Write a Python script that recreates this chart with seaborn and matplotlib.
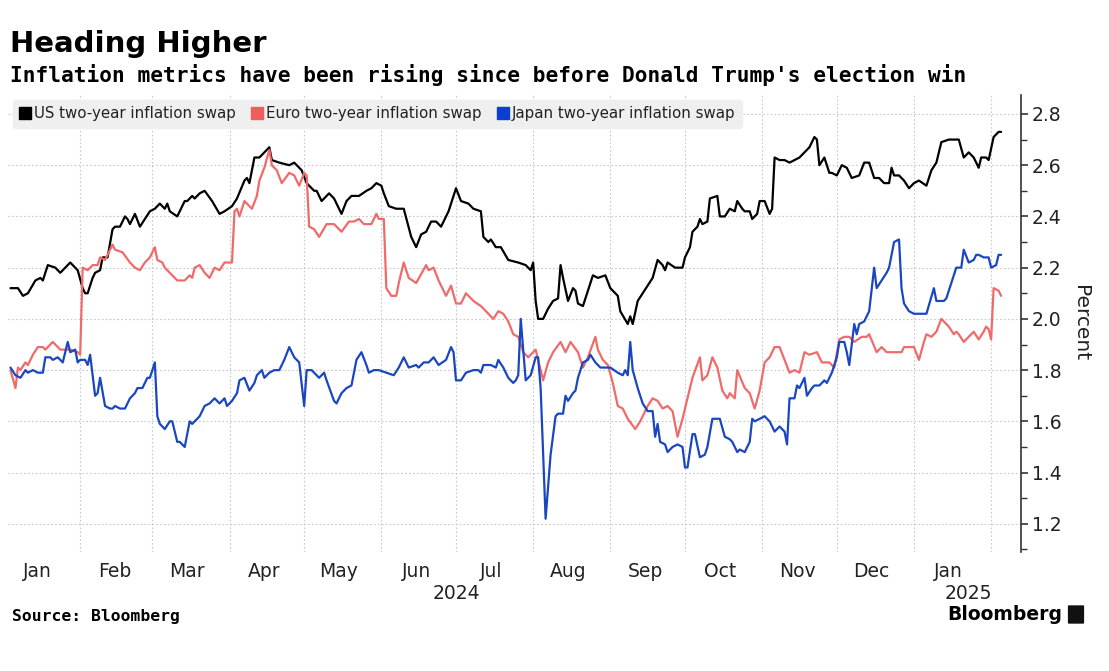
import numpy as np
import pandas as pd
import matplotlib
matplotlib.use("Agg")
import matplotlib.pyplot as plt
import matplotlib.dates as mdates
from matplotlib.ticker import MultipleLocator, FixedLocator
from matplotlib.lines import Line2D
from matplotlib.patches import FancyBboxPatch
import seaborn as sns

# ---------------- data (days since 2024-01-01, percent) ----------------
us_day = [3, 6, 8, 10, 13, 15, 16, 18, 21, 23, 25, 27, 29, 30, 32, 33, 34, 36, 37, 39,
          40, 41, 42, 44, 45, 47, 49, 50, 51, 53, 55, 57, 59, 61, 63, 65, 66, 67, 70, 73,
          74, 76, 77, 79, 81, 84, 87, 89, 92, 94, 97, 98, 99, 101, 103, 105, 107, 108, 111, 115,
          117, 120, 122, 125, 126, 128, 131, 133, 136, 138, 140, 143, 146, 148, 150, 152, 153, 155, 158, 161,
          164, 166, 168, 170, 172, 174, 176, 179, 182, 184, 187, 189, 192, 193, 195, 196, 198, 200, 203, 207,
          210, 212, 213, 214, 215, 217, 219, 221, 223, 224, 225, 227, 229, 230, 231, 233, 235, 237, 239, 242,
          244, 247, 248, 251, 252, 253, 255, 257, 259, 261, 263, 265, 266, 267, 270, 273, 274, 276, 277, 279,
          280, 281, 283, 284, 287, 288, 290, 292, 294, 295, 297, 298, 300, 301, 303, 304, 306, 308, 309, 310,
          312, 314, 316, 318, 320, 322, 324, 326, 327, 328, 330, 332, 333, 335, 337, 339, 341, 344, 346, 348,
          350, 352, 354, 356, 357, 358, 360, 362, 364, 366, 368, 371, 373, 375, 377, 380, 382, 383, 384, 386,
          388, 390, 392, 393, 395, 396, 398, 400, 401]
us_val = [2.12, 2.12, 2.09, 2.10, 2.15, 2.16, 2.15, 2.21, 2.20, 2.18, 2.20, 2.22, 2.20, 2.19, 2.12, 2.10, 2.10, 2.16, 2.18, 2.19,
          2.24, 2.24, 2.24, 2.35, 2.36, 2.36, 2.40, 2.39, 2.37, 2.41, 2.36, 2.39, 2.42, 2.43, 2.45, 2.43, 2.45, 2.42, 2.40, 2.46,
          2.46, 2.48, 2.47, 2.49, 2.50, 2.46, 2.41, 2.42, 2.44, 2.47, 2.54, 2.55, 2.53, 2.63, 2.63, 2.65, 2.67, 2.62, 2.61, 2.60,
          2.61, 2.58, 2.53, 2.50, 2.50, 2.46, 2.49, 2.47, 2.41, 2.46, 2.48, 2.48, 2.50, 2.51, 2.53, 2.52, 2.49, 2.44, 2.43, 2.43,
          2.32, 2.28, 2.33, 2.34, 2.38, 2.38, 2.36, 2.42, 2.51, 2.46, 2.45, 2.43, 2.42, 2.32, 2.30, 2.31, 2.28, 2.28, 2.23, 2.22,
          2.21, 2.19, 2.22, 2.07, 2.00, 2.00, 2.04, 2.07, 2.08, 2.21, 2.16, 2.07, 2.12, 2.11, 2.06, 2.05, 2.11, 2.17, 2.16, 2.17,
          2.12, 2.09, 2.03, 1.98, 2.01, 1.98, 2.07, 2.10, 2.13, 2.16, 2.23, 2.21, 2.19, 2.22, 2.20, 2.20, 2.24, 2.28, 2.34, 2.36,
          2.39, 2.37, 2.38, 2.47, 2.48, 2.40, 2.40, 2.43, 2.42, 2.46, 2.43, 2.42, 2.42, 2.39, 2.41, 2.46, 2.46, 2.41, 2.43, 2.63,
          2.62, 2.62, 2.61, 2.62, 2.63, 2.65, 2.67, 2.71, 2.70, 2.60, 2.63, 2.57, 2.57, 2.56, 2.60, 2.59, 2.55, 2.56, 2.61, 2.61,
          2.55, 2.55, 2.53, 2.53, 2.59, 2.56, 2.56, 2.54, 2.51, 2.53, 2.54, 2.52, 2.58, 2.61, 2.69, 2.70, 2.70, 2.70, 2.70, 2.63,
          2.65, 2.63, 2.59, 2.63, 2.63, 2.62, 2.71, 2.73, 2.73]

eu_day = [3, 5, 6, 7, 9, 10, 12, 14, 16, 17, 20, 23, 25, 27, 30, 31, 32, 34, 36, 38,
          39, 41, 42, 44, 45, 48, 51, 53, 55, 57, 59, 61, 62, 64, 65, 67, 70, 73, 75, 76,
          77, 79, 81, 83, 85, 87, 89, 92, 93, 94, 95, 97, 99, 100, 102, 103, 105, 107, 108, 110,
          112, 115, 117, 119, 121, 122, 123, 125, 127, 130, 133, 136, 139, 141, 143, 145, 148, 150, 151, 153,
          154, 156, 158, 159, 161, 163, 166, 170, 171, 173, 175, 178, 180, 182, 184, 186, 189, 192, 194, 197,
          199, 201, 203, 205, 207, 209, 211, 212, 214, 217, 219, 221, 224, 226, 228, 231, 233, 235, 238, 239,
          241, 243, 245, 247, 249, 251, 254, 256, 259, 261, 263, 265, 267, 269, 271, 273, 275, 277, 280, 281,
          283, 285, 287, 289, 291, 292, 294, 295, 298, 300, 302, 304, 306, 308, 310, 312, 314, 316, 318, 320,
          322, 324, 327, 329, 332, 334, 336, 338, 340, 342, 345, 347, 348, 351, 353, 355, 358, 361, 362, 366,
          368, 370, 371, 373, 375, 377, 379, 380, 382, 383, 384, 386, 388, 390, 392, 394, 395, 396, 397, 398,
          400, 401]
eu_val = [1.80, 1.73, 1.81, 1.80, 1.83, 1.82, 1.86, 1.89, 1.89, 1.88, 1.91, 1.88, 1.88, 1.88, 1.87, 1.86, 2.20, 2.19, 2.21, 2.21,
          2.24, 2.23, 2.25, 2.29, 2.27, 2.26, 2.22, 2.20, 2.19, 2.22, 2.24, 2.28, 2.23, 2.22, 2.20, 2.18, 2.15, 2.15, 2.17, 2.16,
          2.20, 2.21, 2.18, 2.16, 2.20, 2.19, 2.22, 2.22, 2.42, 2.43, 2.40, 2.46, 2.44, 2.43, 2.48, 2.54, 2.59, 2.66, 2.60, 2.58,
          2.53, 2.57, 2.56, 2.52, 2.57, 2.56, 2.36, 2.35, 2.32, 2.37, 2.37, 2.34, 2.38, 2.38, 2.39, 2.37, 2.37, 2.41, 2.39, 2.39,
          2.12, 2.09, 2.09, 2.14, 2.22, 2.16, 2.14, 2.21, 2.19, 2.20, 2.15, 2.09, 2.13, 2.06, 2.06, 2.10, 2.07, 2.05, 2.03, 2.00,
          2.03, 2.02, 1.99, 1.94, 1.93, 1.87, 1.85, 1.86, 1.88, 1.76, 1.83, 1.87, 1.91, 1.87, 1.91, 1.87, 1.81, 1.85, 1.93, 1.88,
          1.84, 1.82, 1.75, 1.66, 1.65, 1.61, 1.57, 1.60, 1.66, 1.69, 1.68, 1.65, 1.66, 1.64, 1.54, 1.61, 1.69, 1.77, 1.85, 1.76,
          1.78, 1.85, 1.81, 1.72, 1.69, 1.71, 1.69, 1.80, 1.73, 1.71, 1.65, 1.72, 1.83, 1.85, 1.89, 1.89, 1.84, 1.79, 1.80, 1.79,
          1.87, 1.86, 1.87, 1.83, 1.83, 1.81, 1.92, 1.93, 1.93, 1.91, 1.93, 1.93, 1.94, 1.87, 1.89, 1.87, 1.87, 1.87, 1.89, 1.89,
          1.84, 1.91, 1.94, 1.93, 1.95, 2.00, 1.98, 1.97, 1.94, 1.95, 1.94, 1.91, 1.93, 1.95, 1.92, 1.95, 1.97, 1.96, 1.92, 2.12,
          2.11, 2.09]

jp_day = [3, 5, 7, 9, 10, 12, 14, 16, 17, 19, 20, 22, 23, 24, 26, 27, 29, 30, 31, 33,
          34, 35, 37, 38, 39, 41, 43, 44, 45, 47, 49, 51, 53, 54, 56, 58, 59, 61, 62, 63,
          65, 67, 68, 70, 71, 73, 75, 76, 78, 79, 81, 83, 84, 85, 87, 89, 90, 92, 94, 95,
          97, 99, 101, 102, 104, 105, 107, 109, 111, 113, 115, 117, 119, 121, 122, 124, 127, 129, 130, 133,
          134, 136, 138, 140, 142, 144, 146, 147, 149, 151, 154, 157, 159, 161, 163, 166, 167, 169, 171, 173,
          175, 178, 180, 181, 182, 184, 186, 189, 191, 192, 193, 196, 198, 199, 201, 203, 205, 206, 207, 208,
          210, 212, 214, 215, 216, 218, 220, 222, 223, 225, 226, 227, 229, 230, 231, 233, 235, 236, 238, 240,
          242, 244, 247, 249, 250, 251, 252, 253, 255, 257, 259, 261, 262, 263, 264, 266, 267, 269, 271, 273,
          274, 275, 277, 278, 280, 282, 283, 285, 287, 288, 290, 292, 293, 295, 296, 298, 300, 301, 302, 304,
          306, 308, 310, 312, 314, 315, 316, 318, 319, 320, 322, 323, 325, 326, 328, 330, 331, 333, 335, 336,
          338, 339, 340, 342, 343, 344, 346, 348, 350, 351, 353, 355, 356, 358, 360, 361, 362, 364, 366, 369,
          371, 374, 375, 376, 378, 379, 381, 383, 385, 386, 388, 390, 391, 392, 394, 396, 397, 399, 400, 401]
jp_val = [1.81, 1.78, 1.77, 1.80, 1.79, 1.80, 1.79, 1.79, 1.85, 1.85, 1.84, 1.85, 1.84, 1.83, 1.91, 1.87, 1.88, 1.83, 1.84, 1.84,
          1.82, 1.86, 1.70, 1.71, 1.77, 1.66, 1.65, 1.65, 1.66, 1.65, 1.65, 1.69, 1.71, 1.73, 1.73, 1.77, 1.77, 1.83, 1.62, 1.59,
          1.57, 1.60, 1.60, 1.52, 1.52, 1.50, 1.60, 1.59, 1.61, 1.62, 1.66, 1.67, 1.68, 1.69, 1.67, 1.69, 1.66, 1.68, 1.71, 1.76,
          1.77, 1.72, 1.75, 1.78, 1.80, 1.77, 1.79, 1.80, 1.80, 1.84, 1.89, 1.85, 1.83, 1.66, 1.80, 1.80, 1.77, 1.79, 1.76, 1.68,
          1.67, 1.71, 1.73, 1.74, 1.84, 1.87, 1.82, 1.79, 1.80, 1.80, 1.79, 1.78, 1.81, 1.85, 1.81, 1.82, 1.81, 1.83, 1.83, 1.85,
          1.82, 1.84, 1.89, 1.87, 1.76, 1.76, 1.79, 1.80, 1.80, 1.79, 1.82, 1.82, 1.81, 1.84, 1.81, 1.77, 1.75, 1.76, 1.78, 2.00,
          1.76, 1.78, 1.85, 1.85, 1.73, 1.22, 1.47, 1.62, 1.63, 1.63, 1.70, 1.68, 1.71, 1.72, 1.77, 1.83, 1.84, 1.86, 1.83, 1.81,
          1.81, 1.81, 1.79, 1.78, 1.80, 1.78, 1.91, 1.80, 1.73, 1.67, 1.64, 1.64, 1.54, 1.59, 1.52, 1.51, 1.48, 1.50, 1.51, 1.50,
          1.42, 1.42, 1.55, 1.55, 1.46, 1.47, 1.50, 1.61, 1.61, 1.61, 1.54, 1.53, 1.52, 1.48, 1.49, 1.48, 1.52, 1.61, 1.60, 1.61,
          1.62, 1.60, 1.56, 1.58, 1.56, 1.51, 1.69, 1.69, 1.74, 1.73, 1.77, 1.70, 1.73, 1.74, 1.74, 1.76, 1.75, 1.79, 1.85, 1.91,
          1.91, 1.87, 1.82, 1.98, 1.94, 1.98, 1.99, 2.03, 2.20, 2.12, 2.15, 2.18, 2.20, 2.30, 2.31, 2.12, 2.06, 2.03, 2.02, 2.02,
          2.02, 2.12, 2.07, 2.07, 2.07, 2.08, 2.14, 2.20, 2.20, 2.27, 2.22, 2.23, 2.25, 2.25, 2.24, 2.24, 2.20, 2.21, 2.25, 2.25]

series_names = ["US two-year inflation swap", "Euro two-year inflation swap", "Japan two-year inflation swap"]
year_labels = ["2024", "2025"]
y_ticks = [1.2, 1.4, 1.6, 1.8, 2.0, 2.2, 2.4, 2.6, 2.8]

# ---------------- build frame ----------------
base = pd.Timestamp("2024-01-01")
frames = []
for name, d, v in zip(series_names, [us_day, eu_day, jp_day], [us_val, eu_val, jp_val]):
    frames.append(pd.DataFrame({"date": base + pd.to_timedelta(d, unit="D"),
                                "value": v, "series": name}))
df = pd.concat(frames, ignore_index=True)

colors = {series_names[0]: "#000000", series_names[1]: "#f06a6a", series_names[2]: "#1a47c0"}
legend_colors = ["#000000", "#f25c5c", "#0a3fcf"]

# ---------------- figure ----------------
sns.set_theme(style="white")
plt.rcParams["font.family"] = ["DejaVu Sans"]

fig = plt.figure(figsize=(11.09, 6.71), dpi=100)
ax = fig.add_axes([8 / 1109, 1 - 552 / 671, (1021 - 8) / 1109, (552 - 95) / 671])

sns.lineplot(data=df, x="date", y="value", hue="series", palette=colors,
             hue_order=series_names, linewidth=1.6, ax=ax, legend=False)

ax.set_xlim(pd.Timestamp("2024-01-03"), pd.Timestamp("2025-02-13"))
ax.set_ylim(1.09, 2.874)

# y axis on the right
ax.yaxis.tick_right()
ax.yaxis.set_label_position("right")
ax.yaxis.set_major_locator(FixedLocator(y_ticks))
ax.yaxis.set_minor_locator(MultipleLocator(0.1))
ax.set_yticklabels([f"{t:.1f}" for t in y_ticks])
for lab in ax.get_yticklabels():
    lab.set_fontsize(13.5)
    lab.set_color("#222222")
ax.tick_params(axis="y", which="major", length=5, width=1.2, color="#333333", pad=3, right=True, left=False)
ax.tick_params(axis="y", which="minor", length=4, width=1.0, color="#333333", right=True, left=False)
ax.set_ylabel("Percent", rotation=270, labelpad=20, fontsize=14.5, color="#222222")

# x axis: month boundaries for grid, month labels mid-month
ax.xaxis.set_major_locator(mdates.MonthLocator())
ax.xaxis.set_major_formatter(plt.NullFormatter())
ax.xaxis.set_minor_locator(mdates.MonthLocator(bymonthday=15))
ax.xaxis.set_minor_formatter(mdates.DateFormatter("%b"))
ax.tick_params(axis="x", which="major", length=0)
ax.tick_params(axis="x", which="minor", length=0, pad=7, labelsize=13.5, labelcolor="#222222")
ax.set_xlabel("")

# year labels
for yl, dt in zip(year_labels, ["2024-07-01", "2025-01-23"]):
    ax.text(pd.Timestamp(dt), -0.07, yl, transform=ax.get_xaxis_transform(),
            ha="center", va="top", fontsize=13.5, color="#222222")

# grid
ax.grid(True, which="major", axis="both", color="#c8c8c8", linestyle=(0, (1.5, 2)), linewidth=0.8)
ax.set_axisbelow(True)

for s in ["top", "left", "bottom"]:
    ax.spines[s].set_visible(False)
ax.spines["right"].set_color("#333333")
ax.spines["right"].set_linewidth(1.2)

# legend
handles = [Line2D([0], [0], marker="s", color="none", markerfacecolor=c, markeredgecolor=c,
                  markersize=9) for c in legend_colors]
leg = ax.legend(handles, series_names, loc="upper left", bbox_to_anchor=(0.0, 1.0), ncol=3,
                frameon=True, fancybox=True, framealpha=1.0, facecolor="#efefef", edgecolor="#efefef",
                handlelength=0.8, handletextpad=0.2, columnspacing=1.0, borderpad=0.45,
                borderaxespad=0.3, prop={"size": 10.8})
for t in leg.get_texts():
    t.set_color("#222222")

# titles
fig.text(10 / 1109, 1 - 44 / 671, "Heading Higher", fontsize=21, fontweight="bold",
         va="center", ha="left", color="#000000")
fig.text(10 / 1109, 1 - 75 / 671, "Inflation metrics have been rising since before Donald Trump's election win",
         fontsize=15.2, fontweight="bold", va="center", ha="left", color="#000000", family="DejaVu Sans Mono")
fig.text(12 / 1109, 1 - 617 / 671, "Source: Bloomberg", fontsize=11.8, fontweight="bold",
         va="center", ha="left", color="#000000", family="DejaVu Sans Mono")
fig.text(1062 / 1109, 1 - 614 / 671, "Bloomberg", fontsize=13.5, fontweight="bold",
         va="center", ha="right", color="#000000")
fig.patches.append(FancyBboxPatch((1069 / 1109, 1 - 623 / 671), 14 / 1109, 17 / 671,
                                  boxstyle="round,pad=0.001", transform=fig.transFigure,
                                  facecolor="#111111", edgecolor="none"))

fig.savefig("out.png", dpi=100)
